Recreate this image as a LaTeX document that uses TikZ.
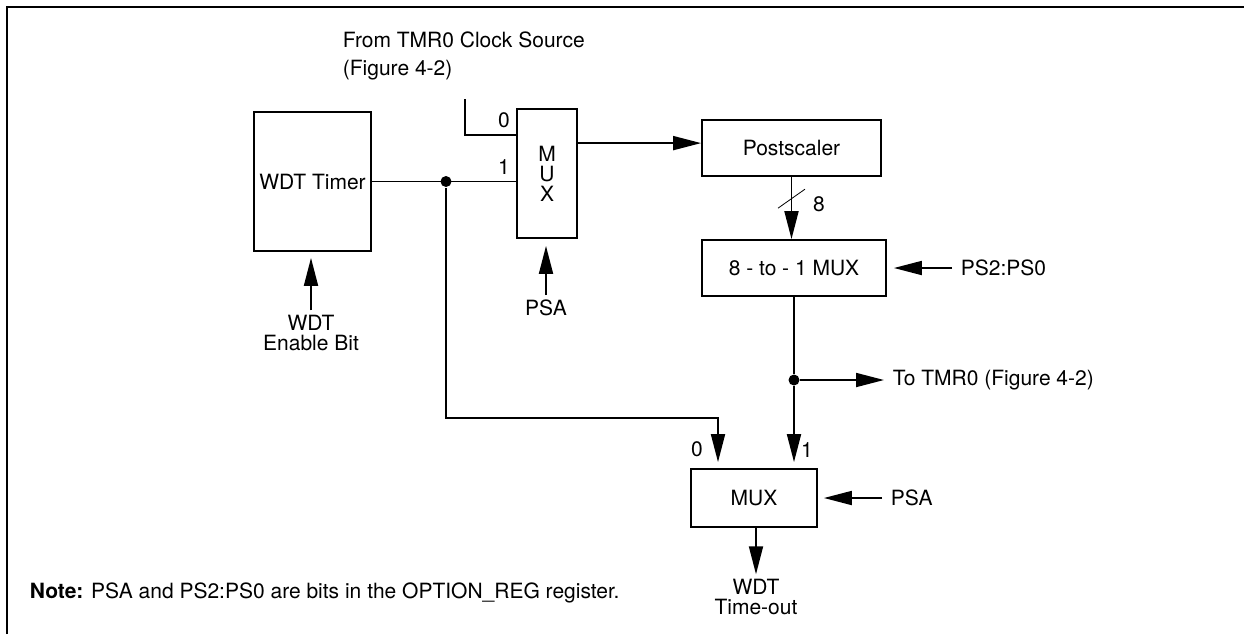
\documentclass[tikz,border=0pt]{standalone}
\usepackage{fontspec}
\setmainfont{TeX Gyre Heros}
\usetikzlibrary{calc,arrows.meta}

\begin{document}
\begin{tikzpicture}[x=0.5pt, y=-0.5pt, line width=0.9pt,
  every node/.style={font=\fontsize{10.5}{10}\selectfont, inner sep=2pt},
  blk/.style={draw, inner sep=0pt},
  arr/.style={-{Triangle[length=14pt, width=7pt]}},
  dot/.style={circle, fill, inner sep=0pt, minimum size=5.5pt}]
\useasboundingbox (0,0) rectangle (1244,634);
\draw[line width=1.1pt] (7,634) -- (7,7) -- (1244,7);
% blocks
\node[blk, minimum width=58.5pt, minimum height=69.5pt] (wdt) at (312.5,181.5) {WDT Timer};
\node[blk, minimum width=30pt, minimum height=64.5pt, align=center] (mux1) at (547,173.5) {M\\U\\X};
\node[blk, minimum width=89.5pt, minimum height=28pt] (post) at (791.5,148) {Postscaler};
\node[blk, minimum width=92pt, minimum height=28pt] (sel8) at (794,268) {8 - to - 1 MUX};
\node[blk, minimum width=63pt, minimum height=29pt] (mux2) at (754,498) {MUX};
% labels
\node[anchor=north west, inner sep=0pt, align=left, font=\fontsize{10.5}{14}\selectfont] (src) at (342,31) {From TMR0 Clock Source\\(Figure 4-2)};
\node[align=center] (wen) at (311,333) {WDT\\Enable Bit};
\node (psa1) at (546,308) {PSA};
\node (in0) at (504,120) {0};
\node (in1) at (504,167) {1};
\node (eight) at (819,204) {8};
\node[anchor=west] (ps) at (956,268) {PS2:PS0};
\node[anchor=west] (tmr) at (888,380) {To TMR0 (Figure 4-2)};
\node (sel0) at (697,449) {0};
\node (sel1) at (807,450) {1};
\node[anchor=west] (psa2) at (886,498) {PSA};
\node[align=center] (wto) at (756,597) {WDT\\Time-out};
\node[anchor=base west] (note) at (25,598) {\textbf{Note:} PSA and PS2:PS0 are bits in the OPTION\_REG register.};
% first mux
\coordinate (clk) at (465,99);
\draw (clk) |- ($(mux1.north west)+(0,27)$);
\node[dot] (j1) at (446,181.5) {};
\draw (wdt.east) -- (wdt.east -| mux1.west);
\coordinate (m1out) at ($(mux1.north east)+(0,35)$);
\draw[arr] (m1out) -- (m1out -| post.west);
\draw[arr, shorten >=3.5pt] (psa1.north) -- (psa1.north |- mux1.south);
\draw[arr, shorten >=3pt] (wen.north) -- (wen.north |- wdt.south);
% postscaler and 8 - to - 1 mux
\draw[arr] (post.south) -- (post.south |- sel8.north);
\coordinate (bus) at ($(post.south)!0.35!(post.south |- sel8.north)$);
\draw[line width=0.4pt] ($(bus)+(-13.5,9.5)$) -- ($(bus)+(13.5,-9.5)$);
\draw[arr, shorten <=2pt, shorten >=3.5pt] (ps.west) -- (sel8.east);
\node[dot] (j2) at (sel8.south |- 0,380) {};
\draw (sel8.south) -- (j2);
\draw[arr, shorten >=2pt] (j2) -- (tmr.west);
\draw[arr, shorten >=3pt] (j2) -- (j2 |- mux2.north);
% output mux
\coordinate (bend) at ($(mux2.north)+(-36,-50)$);
\draw[arr, shorten >=3pt] (j1) -- (j1 |- bend) -- (bend) -- (bend |- mux2.north);
\draw[arr, shorten <=2pt, shorten >=3pt] (psa2.west) -- (mux2.east);
\draw[arr] (mux2.south -| wto.north) -- (wto.north);
\end{tikzpicture}
\end{document}
